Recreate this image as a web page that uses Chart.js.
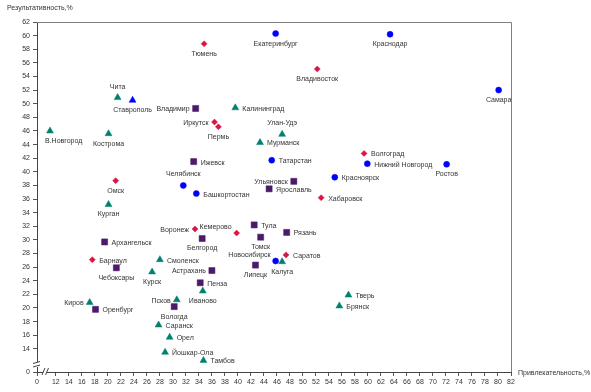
<!DOCTYPE html>
<html>
<head>
<meta charset="utf-8">
<script src="https://cdn.jsdelivr.net/npm/chart.js@4.4.0/dist/chart.umd.min.js"></script>
<style>
  html, body { margin: 0; background: #fff; }
</style>
</head>
<body>
<canvas id="chart" width="591" height="392"></canvas>
<script>
// --- data ---
const blueNames = ["Екатеринбург", "Краснодар", "Самара", "Татарстан", "Нижний Новгород", "Ростов", "Красноярск", "Челябинск", "Башкортостан", "Новосибирск"];
const blueX = [45.8, 63.4, 80.1, 45.2, 59.9, 72.1, 54.9, 31.6, 33.6, 45.8];
const blueY = [60.3, 60.2, 52.0, 41.7, 41.2, 41.1, 39.2, 38.0, 36.8, 26.9];

const blueTriNames = ["Ставрополь"];
const blueTriX = [23.8];
const blueTriY = [50.5];

const redNames = ["Тюмень", "Владивосток", "Иркутск", "Пермь", "Волгоград", "Омск", "Хабаровск", "Воронеж", "Кемерово", "Барнаул", "Саратов"];
const redX = [34.8, 52.2, 36.4, 37.0, 59.4, 21.2, 52.8, 33.4, 39.8, 17.6, 47.4];
const redY = [58.8, 55.1, 47.3, 46.6, 42.7, 38.7, 36.2, 31.6, 31.0, 27.1, 27.8];

const purpleNames = ["Владимир", "Ижевск", "Ульяновск", "Ярославль", "Тула", "Рязань", "Белгород", "Томск", "Архангельск", "Чебоксары", "Астрахань", "Липецк", "Пенза", "Вологда", "Оренбург"];
const purpleX = [33.5, 33.2, 48.6, 44.8, 42.5, 47.5, 34.5, 43.5, 19.5, 21.3, 36.0, 42.7, 34.2, 30.2, 18.1];
const purpleY = [49.3, 41.5, 38.6, 37.5, 32.2, 31.1, 30.2, 30.4, 29.7, 25.9, 25.5, 26.3, 23.7, 20.2, 19.8];

const greenNames = ["Чита", "Калининград", "В.Новгород", "Кострома", "Улан-Удэ", "Мурманск", "Курган", "Смоленск", "Курск", "Калуга", "Иваново", "Псков", "Киров", "Тверь", "Брянск", "Саранск", "Орел", "Йошкар-Ола", "Тамбов"];
const greenX = [21.5, 39.6, 11.1, 20.1, 46.8, 43.4, 20.1, 28.0, 26.8, 46.8, 34.6, 30.6, 17.2, 57.0, 55.6, 27.8, 29.5, 28.8, 34.7];
const greenY = [50.9, 49.4, 46.0, 45.6, 45.5, 44.3, 35.2, 27.1, 25.3, 26.8, 22.5, 21.2, 20.8, 21.9, 20.3, 17.5, 15.7, 13.5, 12.3];

const xTicks = [12, 14, 16, 18, 20, 22, 24, 26, 28, 30, 32, 34, 36, 38, 40, 42, 44, 46, 48, 50, 52, 54, 56, 58, 60, 62, 64, 66, 68, 70, 72, 74, 76, 78, 80, 82];
const yTicks = [14, 16, 18, 20, 22, 24, 26, 28, 30, 32, 34, 36, 38, 40, 42, 44, 46, 48, 50, 52, 54, 56, 58, 60, 62];
const xTitle = "Привлекательность,%";
const yTitle = "Результативность,%";

// broken axes: the first tick is shown as "0"
const xMin = 9.1, xMax = 82;
const yMin = 10.6, yMax = 62;

// where each city name sits relative to its marker (default: right)
const labelSide = {
  "Екатеринбург": "below", "Краснодар": "below", "Самара": "below", "Ростов": "below",
  "Тюмень": "below", "Владивосток": "below", "Ставрополь": "below", "Пермь": "below",
  "Омск": "below", "В.Новгород": "belowRight", "Кострома": "below", "Курган": "below",
  "Белгород": "below", "Томск": "below", "Калуга": "below", "Липецк": "below",
  "Чебоксары": "below", "Курск": "below", "Иваново": "below", "Вологда": "below",
  "Чита": "above", "Улан-Удэ": "above", "Челябинск": "above",
  "Владимир": "left", "Иркутск": "left", "Ульяновск": "left", "Воронеж": "left",
  "Астрахань": "left", "Псков": "left", "Киров": "left",
  "Кемерово": "aboveLeft", "Новосибирск": "aboveLeft"
};

const FONT = '7px "Liberation Sans", Arial, sans-serif';

function toPoints(xs, ys) {
  return xs.map((x, i) => ({ x: x, y: ys[i] }));
}

const pointLabels = {
  id: 'pointLabels',
  afterDatasetsDraw(chart) {
    const ctx = chart.ctx;
    ctx.save();
    ctx.font = FONT;
    ctx.fillStyle = '#333';
    chart.data.datasets.forEach((ds, i) => {
      chart.getDatasetMeta(i).data.forEach((el, j) => {
        const name = ds.names[j];
        const side = labelSide[name] || 'right';
        let x = el.x, y = el.y;
        ctx.textBaseline = 'middle';
        if (side === 'right') { ctx.textAlign = 'left'; x += 7; y += 1; }
        else if (side === 'left') { ctx.textAlign = 'right'; x -= 6; y += 1; }
        else if (side === 'below') { ctx.textAlign = 'center'; y += 10; }
        else if (side === 'belowRight') { ctx.textAlign = 'left'; x -= 5; y += 10; }
        else if (side === 'above') { ctx.textAlign = 'center'; y -= 11; }
        else if (side === 'aboveLeft') { ctx.textAlign = 'right'; x -= 5; y -= 6; }
        ctx.fillText(name, x, y);
      });
    });
    ctx.restore();
  }
};

const frameAndBreaks = {
  id: 'frameAndBreaks',
  afterDraw(chart) {
    const { ctx, chartArea: a } = chart;
    ctx.save();
    // top and right frame
    ctx.strokeStyle = '#808080';
    ctx.lineWidth = 1;
    ctx.beginPath();
    ctx.moveTo(a.left, a.top + 0.5);
    ctx.lineTo(a.right + 0.5, a.top + 0.5);
    ctx.lineTo(a.right + 0.5, a.bottom);
    ctx.stroke();

    // y axis break
    const yb = a.bottom - 8;
    ctx.fillStyle = '#fff';
    ctx.fillRect(a.left - 2, yb - 2, 4, 5);
    ctx.strokeStyle = '#444';
    ctx.beginPath();
    ctx.moveTo(a.left - 4, yb - 0.5); ctx.lineTo(a.left + 3, yb - 2.5);
    ctx.moveTo(a.left - 4, yb + 3); ctx.lineTo(a.left + 3, yb + 1);
    ctx.stroke();

    // x axis break
    const xb = a.left + 7;
    ctx.fillRect(xb - 1, a.bottom - 2, 4, 4);
    ctx.beginPath();
    ctx.moveTo(xb - 2, a.bottom + 3); ctx.lineTo(xb + 1, a.bottom - 4);
    ctx.moveTo(xb + 1.5, a.bottom + 3); ctx.lineTo(xb + 4.5, a.bottom - 4);
    ctx.stroke();

    // axis titles
    ctx.font = FONT;
    ctx.fillStyle = '#333';
    ctx.textBaseline = 'middle';
    ctx.textAlign = 'left';
    ctx.fillText(yTitle, 7, 8);
    ctx.fillText(xTitle, a.right + 7, a.bottom + 1);
    ctx.restore();
  }
};

const markerSet = (names, xs, ys, style, color, radius) => ({
  names: names,
  data: toPoints(xs, ys),
  pointStyle: style,
  pointRadius: radius,
  pointHoverRadius: radius,
  backgroundColor: color,
  borderColor: color,
  borderWidth: 0.5
});

new Chart(document.getElementById('chart'), {
  type: 'scatter',
  data: {
    datasets: [
      markerSet(blueNames, blueX, blueY, 'circle', '#0000ff', 3),
      markerSet(blueTriNames, blueTriX, blueTriY, 'triangle', '#0000ff', 4),
      markerSet(redNames, redX, redY, 'rectRot', '#dc1444', 3),
      markerSet(purpleNames, purpleX, purpleY, 'rect', '#4b1a6a', 4.3),
      markerSet(greenNames, greenX, greenY, 'triangle', '#00806e', 4)
    ]
  },
  options: {
    responsive: false,
    animation: false,
    devicePixelRatio: 1,
    layout: { padding: { left: 0, top: 22, right: 80, bottom: 0 } },
    plugins: { legend: { display: false }, tooltip: { enabled: false } },
    scales: {
      x: {
        type: 'linear',
        min: xMin,
        max: xMax,
        afterBuildTicks: s => { s.ticks = [xMin].concat(xTicks).map(v => ({ value: v })); },
        afterFit: s => { s.height = 20; },
        ticks: {
          autoSkip: false,
          maxRotation: 0,
          padding: 2,
          color: '#333',
          font: { family: '"Liberation Sans", Arial, sans-serif', size: 7 },
          callback: v => (v === xMin ? '0' : v)
        },
        grid: { drawOnChartArea: false, drawTicks: true, tickLength: 4, color: '#555' },
        border: { display: true, color: '#444' }
      },
      y: {
        type: 'linear',
        min: yMin,
        max: yMax,
        afterBuildTicks: s => { s.ticks = [yMin].concat(yTicks).map(v => ({ value: v })); },
        afterFit: s => { s.width = 37; },
        ticks: {
          autoSkip: false,
          padding: 3,
          color: '#333',
          font: { family: '"Liberation Sans", Arial, sans-serif', size: 7 },
          callback: v => (v === yMin ? '0' : v)
        },
        grid: { drawOnChartArea: false, drawTicks: true, tickLength: 4, color: '#555' },
        border: { display: true, color: '#444' }
      }
    }
  },
  plugins: [pointLabels, frameAndBreaks]
});
</script>
</body>
</html>
